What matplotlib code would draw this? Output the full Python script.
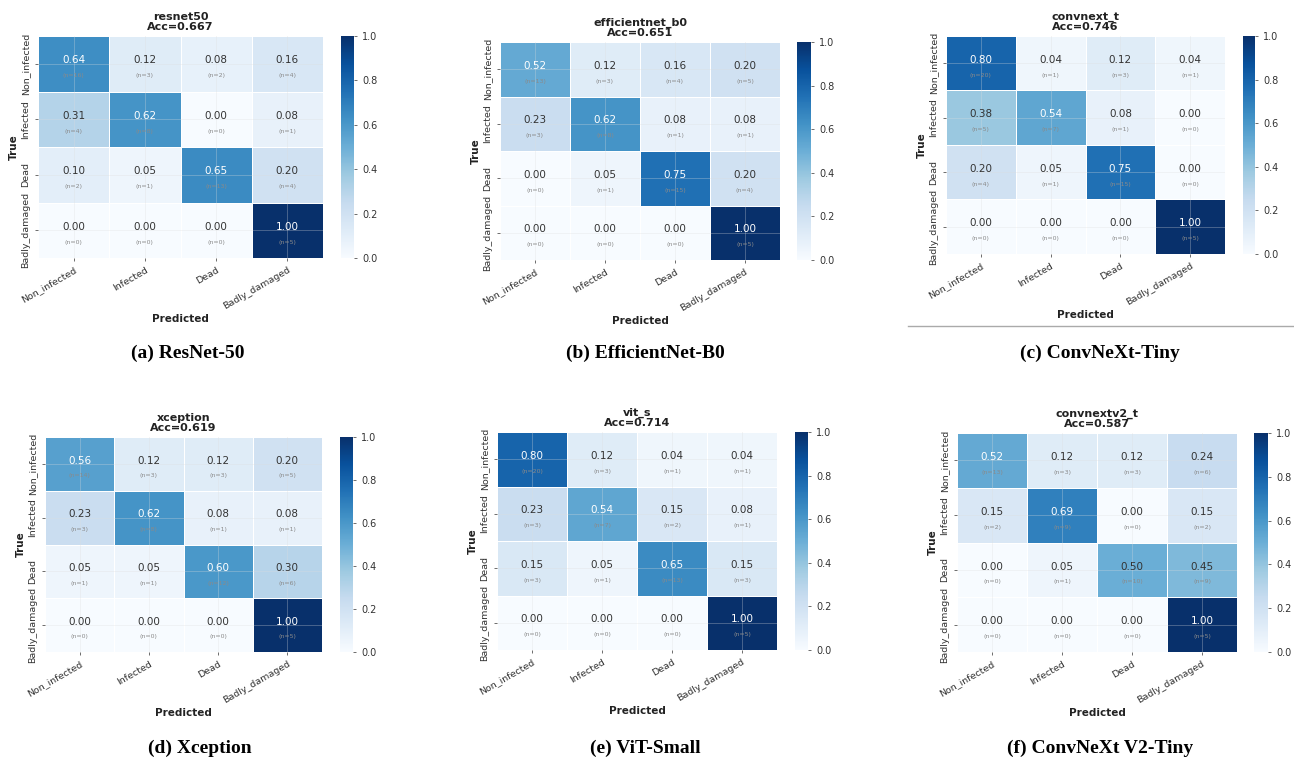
import numpy as np
import matplotlib
matplotlib.use("Agg")
import matplotlib.pyplot as plt
from matplotlib.lines import Line2D

classes = ["Non_infected", "Infected", "Dead", "Badly_damaged"]

# Confusion-matrix counts (rows = true class, columns = predicted class)
resnet50 = [[16, 3, 2, 4], [4, 8, 0, 1], [2, 1, 13, 4], [0, 0, 0, 5]]
efficientnet_b0 = [[13, 3, 4, 5], [3, 8, 1, 1], [0, 1, 15, 4], [0, 0, 0, 5]]
convnext_t = [[20, 1, 3, 1], [5, 7, 1, 0], [4, 1, 15, 0], [0, 0, 0, 5]]
xception = [[14, 3, 3, 5], [3, 8, 1, 1], [1, 1, 12, 6], [0, 0, 0, 5]]
vit_s = [[20, 3, 1, 1], [3, 7, 2, 1], [3, 1, 13, 3], [0, 0, 0, 5]]
convnextv2_t = [[13, 3, 3, 6], [2, 9, 0, 2], [0, 1, 10, 9], [0, 0, 0, 5]]

model_names = ["resnet50", "efficientnet_b0", "convnext_t",
               "xception", "vit_s", "convnextv2_t"]
captions = ["(a) ResNet-50", "(b) EfficientNet-B0", "(c) ConvNeXt-Tiny",
            "(d) Xception", "(e) ViT-Small", "(f) ConvNeXt V2-Tiny"]
matrices = [resnet50, efficientnet_b0, convnext_t, xception, vit_s, convnextv2_t]

W, H = 1294, 765
fig = plt.figure(figsize=(W / 100, H / 100), dpi=100)
fig.patch.set_facecolor("white")

def box(x, y, w, h):
    return [x / W, 1 - (y + h) / H, w / W, h / H]

# pixel layout of each panel: heatmap box, colorbar box, caption centre
layout = [
    ((38, 36, 285, 222), (341, 36, 13, 222), (188, 353)),
    ((500, 42, 280, 218), (797, 42, 14, 218), (645, 353)),
    ((946, 36, 279, 218), (1243, 36, 12, 218), (1100, 353)),
    ((45, 437, 277, 215), (340, 437, 13, 215), (200, 748)),
    ((497, 432, 280, 218), (795, 432, 13, 218), (645, 748)),
    ((957, 433, 280, 219), (1254, 433, 14, 219), (1100, 748)),
]

cmap = plt.get_cmap("Blues")

for name, cap, counts, (hb, cb, cc) in zip(model_names, captions, matrices, layout):
    cm = np.array(counts, dtype=float)
    norm = cm / cm.sum(axis=1, keepdims=True)
    acc = np.trace(cm) / cm.sum()

    ax = fig.add_axes(box(*hb))
    mesh = ax.pcolormesh(norm, cmap=cmap, vmin=0, vmax=1,
                         edgecolors="white", linewidth=0.4)
    ax.set_xlim(0, 4)
    ax.set_ylim(4, 0)
    for s in ax.spines.values():
        s.set_visible(False)
    centers = np.arange(4) + 0.5
    ax.set_xticks(centers)
    ax.set_yticks(centers)
    ax.set_xticklabels(classes, rotation=30, ha="right", rotation_mode="anchor",
                       fontsize=6.8, color="#333333")
    ax.set_yticklabels(classes, rotation=90, va="center", fontsize=6.8,
                       color="#333333")
    ax.tick_params(length=2.5, width=0.6, color="#555555", pad=3)
    ax.grid(True, color="#dddddd", linewidth=0.6, alpha=0.35)
    ax.set_axisbelow(False)
    ax.set_xlabel("Predicted", fontsize=7.5, fontweight="bold", color="#222222",
                  labelpad=2)
    ax.set_ylabel("True", fontsize=7.5, fontweight="bold", color="#222222",
                  labelpad=2)
    ax.set_title(f"{name}\nAcc={acc:.3f}", fontsize=8, fontweight="bold",
                 color="#222222", pad=4, linespacing=1.0)

    for i in range(4):
        for j in range(4):
            v = norm[i, j]
            col = "white" if v > 0.5 else "#333333"
            ax.text(j + 0.5, i + 0.44, f"{v:.2f}", ha="center", va="center",
                    fontsize=7.5, color=col)
            ax.text(j + 0.5, i + 0.72, f"(n={int(cm[i, j])})", ha="center",
                    va="center", fontsize=4.5, color="#8a8a8a")

    cax = fig.add_axes(box(*cb))
    cbar = fig.colorbar(mesh, cax=cax, ticks=[0, 0.2, 0.4, 0.6, 0.8, 1.0])
    cbar.outline.set_visible(False)
    cbar.ax.tick_params(labelsize=7, length=2.5, width=0.6, color="#555555",
                        labelcolor="#333333")
    cbar.ax.set_yticklabels([f"{t:.1f}" for t in [0, 0.2, 0.4, 0.6, 0.8, 1.0]])

    fig.text(cc[0] / W, 1 - cc[1] / H, cap, ha="center", va="center",
             fontsize=14, fontweight="bold", family="Liberation Serif")

# separator rule beneath the top-right panel
fig.add_artist(Line2D([908 / W, 1.0], [1 - 326 / H, 1 - 326 / H],
                      color="#aaaaaa", linewidth=1.0))

fig.savefig("out.png", dpi=100, facecolor="white")
